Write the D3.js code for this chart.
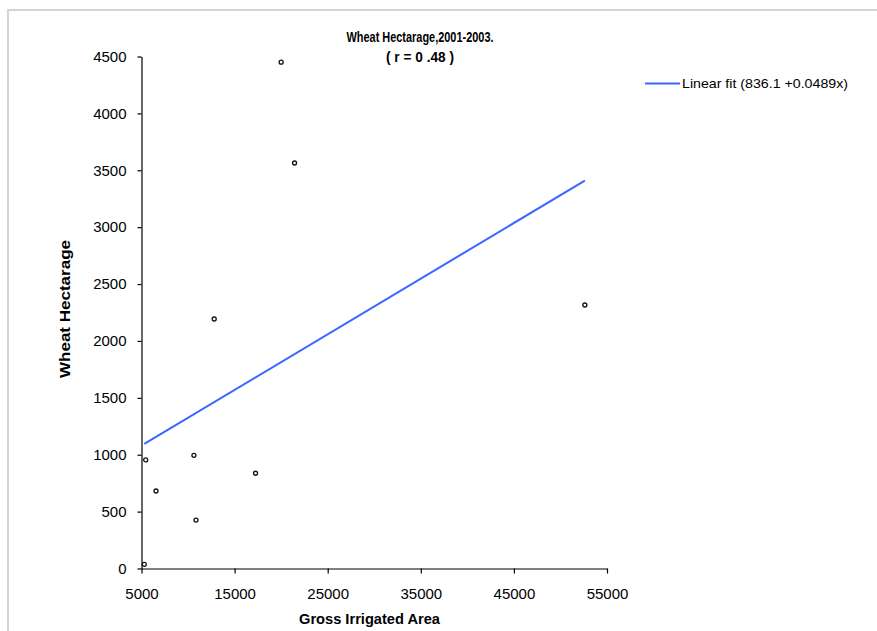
<!DOCTYPE html>
<html>
<head>
<meta charset="utf-8">
<script src="https://cdnjs.cloudflare.com/ajax/libs/d3/7.8.5/d3.min.js"></script>
<style>
  body { margin: 0; background: #fff; }
  text { fill: #000; }
</style>
</head>
<body>
<div id="chart"></div>
<script>
// *****Data*****
var irrigated = [20000, 21440, 12810, 52620, 5450, 10630, 6560, 10850, 17250, 5300];
var hectarage = [4450, 3564, 2193, 2316, 954, 995, 681, 426, 837, 37];
var xTicks = [5000, 15000, 25000, 35000, 45000, 55000];
var yTicks = [0, 500, 1000, 1500, 2000, 2500, 3000, 3500, 4000, 4500];
var fitIntercept = 836.1,
    fitSlope = 0.0489;
var titleLines = ["Wheat Hectarage,2001-2003.", "( r = 0 .48 )"];
var legendLabel = "Linear fit (836.1  +0.0489x)";

// set the dimensions and margins of the graph
var margin = {top: 56.5, right: 270, bottom: 62.5, left: 141.5},
    width = 877 - margin.left - margin.right,
    height = 631 - margin.top - margin.bottom;

// no narrow face installed, so texts are squeezed to the widths of the original
var narrow = "'Liberation Sans Narrow', 'Arial Narrow', 'Liberation Sans', Arial, sans-serif";

var svg = d3.select("#chart")
  .append("svg")
    .attr("width", 877)
    .attr("height", 631);

// chart area border (top and left only, as cropped)
svg.append("path")
  .attr("d", "M8,631 V10 H877")
  .attr("fill", "none")
  .attr("stroke", "#d4d4d4")
  .attr("stroke-width", 2);

var plot = svg.append("g")
  .attr("transform", "translate(" + margin.left + "," + margin.top + ")");

// X axis
var x = d3.scaleLinear()
  .domain([5000, 55000])
  .range([0, width]);
plot.append("g")
  .attr("class", "axis")
  .attr("transform", "translate(0," + height + ")")
  .call(d3.axisBottom(x).tickValues(xTicks).tickFormat(d3.format("d"))
    .tickSize(5).tickPadding(15).tickSizeOuter(0));

// Y axis
var y = d3.scaleLinear()
  .domain([0, 4500])
  .range([height, 0]);
plot.append("g")
  .attr("class", "axis")
  .call(d3.axisLeft(y).tickValues(yTicks).tickFormat(d3.format("d"))
    .tickSize(4).tickPadding(11).tickSizeOuter(0));

plot.selectAll(".axis path, .axis line")
  .attr("stroke", "#000")
  .attr("stroke-width", 1.2);
plot.selectAll(".axis text")
  .attr("font-family", "'Liberation Sans', Arial, sans-serif")
  .attr("font-size", 15)
  .attr("fill", "#111");

// Fit line, from smallest to largest area
var fitX = d3.extent(irrigated);
plot.append("line")
  .attr("x1", x(fitX[0]))
  .attr("y1", y(fitIntercept + fitSlope * fitX[0]))
  .attr("x2", x(fitX[1]))
  .attr("y2", y(fitIntercept + fitSlope * fitX[1]))
  .attr("stroke", "#3a66ff")
  .attr("stroke-width", 2);

// Points
plot.selectAll("mycircle")
  .data(irrigated)
  .enter()
  .append("circle")
    .attr("cx", function(d) { return x(d); })
    .attr("cy", function(d, i) { return y(hectarage[i]); })
    .attr("r", 2)
    .style("fill", "#fff")
    .style("stroke", "#111")
    .style("stroke-width", 1.3);

// Title
var titleWidths = [147, 68];
svg.selectAll("titleline")
  .data(titleLines)
  .enter()
  .append("text")
    .attr("x", 420)
    .attr("y", function(d, i) { return 42 + i * 20; })
    .attr("text-anchor", "middle")
    .attr("font-family", narrow)
    .attr("font-weight", "bold")
    .attr("font-size", 15)
    .attr("textLength", function(d, i) { return titleWidths[i]; })
    .attr("lengthAdjust", "spacingAndGlyphs")
    .text(function(d) { return d; });

// Axis titles
svg.append("text")
  .attr("x", 369.5)
  .attr("y", 624)
  .attr("text-anchor", "middle")
  .attr("font-family", narrow)
  .attr("font-weight", "bold")
  .attr("font-size", 15)
  .attr("textLength", 141)
  .attr("lengthAdjust", "spacingAndGlyphs")
  .text("Gross Irrigated Area");

svg.append("text")
  .attr("transform", "translate(70,309) rotate(-90)")
  .attr("text-anchor", "middle")
  .attr("font-family", narrow)
  .attr("font-weight", "bold")
  .attr("font-size", 15)
  .attr("textLength", 138)
  .attr("lengthAdjust", "spacingAndGlyphs")
  .text("Wheat Hectarage");

// Legend
svg.append("line")
  .attr("x1", 645)
  .attr("x2", 680)
  .attr("y1", 83.5)
  .attr("y2", 83.5)
  .attr("stroke", "#3a66ff")
  .attr("stroke-width", 2);
svg.append("text")
  .attr("x", 682)
  .attr("y", 88)
  .attr("font-family", narrow)
  .attr("font-size", 13)
  .attr("textLength", 166)
  .attr("lengthAdjust", "spacingAndGlyphs")
  .text(legendLabel);
</script>
</body>
</html>
